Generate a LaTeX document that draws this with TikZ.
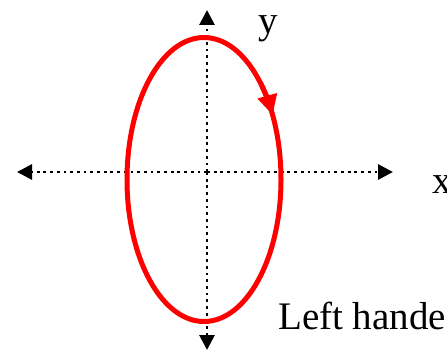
\documentclass[tikz,border=0pt]{standalone}
\usepackage{fontspec}
\setmainfont{Liberation Serif}
\usetikzlibrary{arrows.meta}
\begin{document}
\begin{tikzpicture}[x=1pt,y=1pt,
  axis/.style={line width=2.8pt, dash pattern=on 2.8pt off 3.9pt, -{Triangle[length=15pt,width=15pt]}},
  curve/.style={red, line width=5pt},
  lbl/.style={font=\fontsize{39}{40}\selectfont, anchor=base west, inner sep=0pt}]
\clip (0,0) rectangle (447,349);
\useasboundingbox (0,0) rectangle (447,349);
\coordinate (O) at (207,177);
\coordinate (C) at (204,169.5);
\coordinate (xl) at (17,177);
\coordinate (xr) at (393,177);
\coordinate (yt) at (207,339);
\coordinate (yb) at (207,-1);
\draw[axis] (O) -- (xl);
\draw[axis] (O) -- (xr);
\draw[axis] (O) -- (yt);
\draw[axis] (O) -- (yb);
\draw[curve] (C) ellipse [x radius=77, y radius=142];
\draw[curve, -{Triangle[length=20pt,width=19pt]}] ([shift={(42:77 and 142)}]C) arc[start angle=42, end angle=27, x radius=77, y radius=142];
\node[lbl] (ly) at (258,315.5) {y};
\node[lbl] (lx) at (432,156) {x};
\node[lbl] (lt) at (278,20) {Left handed};
\end{tikzpicture}
\end{document}
